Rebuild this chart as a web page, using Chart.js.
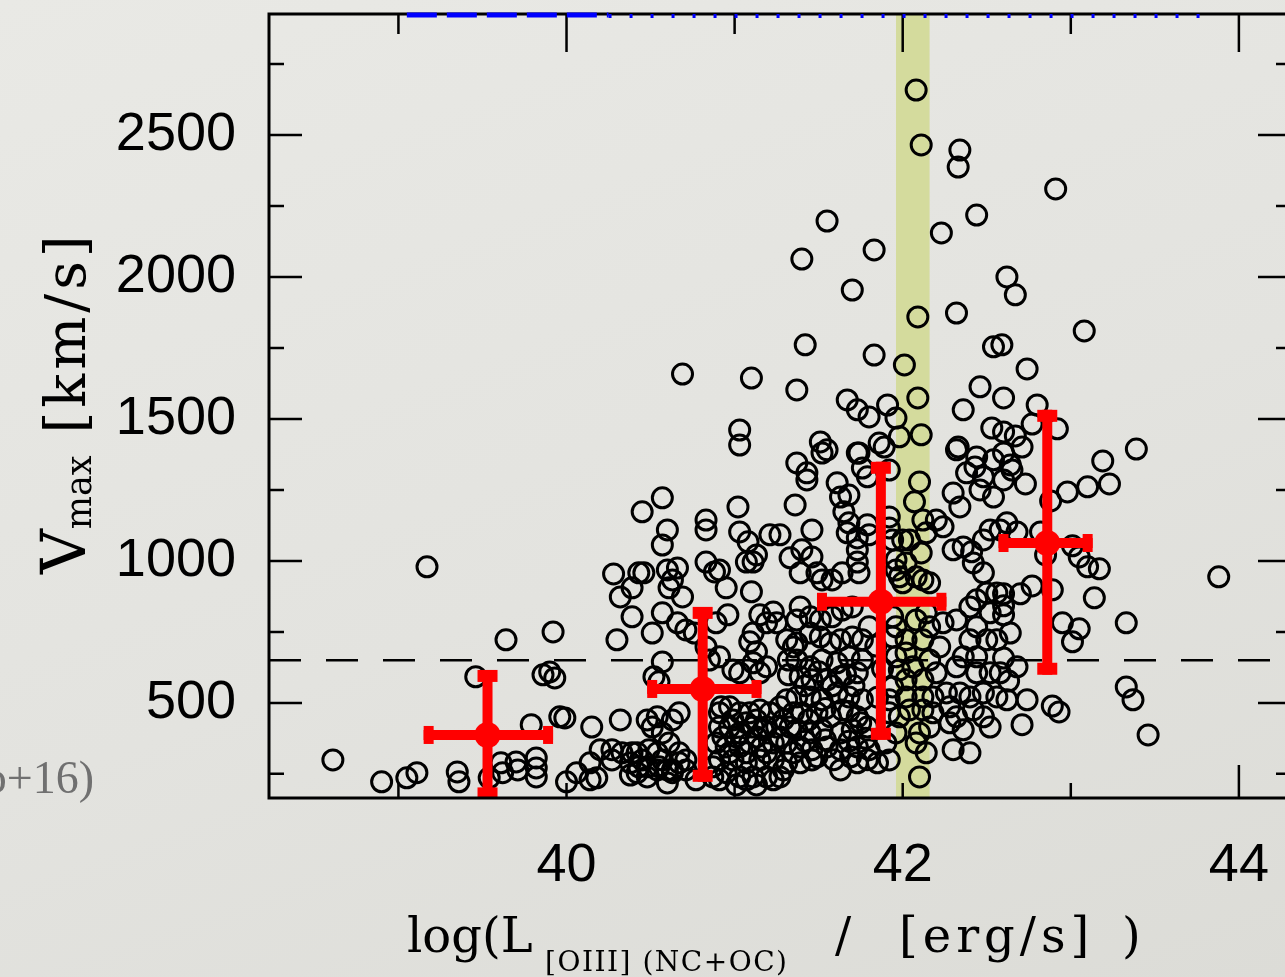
<!DOCTYPE html>
<html>
<head>
<meta charset="utf-8">
<script src="https://cdn.jsdelivr.net/npm/chart.js@4.4.1/dist/chart.umd.min.js"></script>
<style>
  html, body { margin: 0; padding: 0; overflow: hidden; }
  body {
    width: 1285px; height: 977px; position: relative;
    background: linear-gradient(160deg, #e9e9e5 0%, #e3e3df 55%, #dcdcd7 100%);
  }
  #wrap { position: absolute; left: 0; top: 0; width: 1320px; height: 977px; }
  .t { position: absolute; font-family: 'DejaVu Serif', serif; color: #000; white-space: pre; line-height: 1; }
  #ytitle { left: 33px; top: 574px; font-size: 56px; transform-origin: 0 0; transform: rotate(-90deg); }
  #ytitle .big { font-size: 62px; }
  #ytitle .sub { font-size: 35px; position: relative; top: 6px; }
  #ytitle .unit { letter-spacing: 4px; }
  .xt { font-size: 48px; top: 911px; }
  #xsub { font-size: 28px; left: 545px; top: 948px; letter-spacing: 1.5px; }
  #ref { font-family: 'Liberation Serif', serif; font-size: 46px; color: #707070; right: 1191px; top: 755px; }
</style>
</head>
<body>
<div id="wrap"><canvas id="myChart" width="1320" height="977"></canvas></div>
<div class="t" id="ytitle"><span class="big">V</span><span class="sub">max</span><span class="unit"> [km/s]</span></div>
<div class="t xt" style="left:407px">log(L</div>
<div class="t" id="xsub">[OIII] (NC+OC)</div>
<div class="t xt" style="left:835px">/</div>
<div class="t xt" style="left:899px; letter-spacing:5px">[erg/s]</div>
<div class="t xt" style="left:1122px">)</div>
<div class="t" id="ref">(Woo+16)</div>

<script>
document.addEventListener('DOMContentLoaded', () => {
  // log L[OIII] of each object
  const logL = [
    42.08, 42.11, 42.34, 42.33, 42.91, 42.44, 41.55, 42.23, 41.83, 41.40, 42.62, 42.67, 41.70, 42.32, 42.09, 43.08,
    41.42, 42.54, 42.59, 41.83, 42.01, 42.74, 40.69, 41.10, 41.37, 42.46, 41.67, 41.73, 41.80, 41.91, 41.96, 42.09,
    42.60, 42.80, 42.36, 41.51, 41.55, 41.74, 41.86, 41.89, 41.98, 42.11, 42.33, 42.53, 42.60, 42.44, 42.92, 42.77,
    42.67, 42.71, 43.39, 41.03, 41.03, 42.64, 42.65, 42.73, 43.19, 42.98, 43.10, 43.23, 42.88, 42.62, 42.68, 42.82,
    43.01, 43.05, 43.10, 43.17, 42.85, 43.88, 42.60, 42.70, 42.77, 42.89, 43.14, 42.60, 42.60, 42.64, 42.95, 43.05,
    43.01, 43.33, 42.60, 42.68, 42.63, 42.62, 42.74, 42.71, 42.89, 42.93, 43.33, 43.37, 43.46,
    // dense middle
    41.37, 41.43, 41.43, 41.52, 41.61, 41.63, 41.68, 41.73, 41.76, 41.79, 41.92, 41.36, 41.46, 41.65, 41.68, 41.67,
    41.73, 41.73, 41.79, 41.80, 41.92, 41.92, 41.94, 42.00, 42.04, 42.10, 42.07, 42.12, 42.14, 42.11, 42.20, 42.24,
    42.30, 42.34, 42.38, 42.43, 42.48, 42.46, 42.54, 42.60, 42.60, 42.54, 42.32, 42.30, 42.36, 42.41, 42.48, 42.52,
    42.58, 42.42, 42.48, 41.40, 41.46, 41.39, 41.49, 41.52, 41.58, 41.64, 41.73, 41.74, 41.96, 41.96, 42.02, 41.98,
    42.08, 42.12, 42.16, 42.00, 41.39, 41.45, 41.37, 41.51, 41.58, 41.64, 41.70, 41.45, 41.37, 41.51, 41.57, 41.63,
    41.70, 41.76, 41.80, 41.94, 41.96, 41.94, 42.02, 42.08, 42.14, 42.16, 42.12, 42.22, 42.24, 42.32, 42.40, 42.44,
    42.50, 42.56, 42.52, 42.44, 42.50, 42.56, 42.40, 42.36, 42.44, 42.32, 42.44, 42.52, 42.58, 41.37, 41.45, 41.52,
    41.61, 41.68, 41.76, 41.39, 41.46, 41.55, 41.63, 41.73, 41.96, 42.02, 41.98, 42.06, 42.16, 42.20, 42.12, 42.02,
    41.94, 41.92, 42.02, 42.12, 42.18, 42.26, 42.34, 42.40, 42.48, 42.56, 41.37, 41.45, 41.52, 41.61, 41.68, 41.76,
    41.40, 41.49, 41.57, 41.64, 41.73, 41.92, 41.98, 42.04, 42.12, 42.18, 42.28, 42.32, 42.42, 42.48, 41.37, 41.45,
    41.52, 41.63, 41.70, 41.79, 41.96, 42.10, 42.16, 42.28, 42.36, 42.52, 41.39, 41.46, 41.55, 41.63, 41.73, 41.80,
    41.90, 42.08, 42.14, 42.30, 42.40, 41.39, 41.46, 41.63, 41.73, 41.85, 41.92, 42.10,
    41.42, 41.50, 41.58, 41.66, 41.71, 41.44, 41.54, 41.68, 41.75, 41.85, 41.88, 41.84, 41.54, 41.68, 41.78, 41.42,
    41.49, 41.59, 41.69, 41.79,
    // left-middle cloud
    40.45, 40.57, 40.60, 40.57, 40.83, 40.83, 41.02, 41.03, 41.08, 41.21, 41.27, 40.43, 40.46, 40.60, 40.66, 40.63,
    40.61, 40.69, 40.83, 40.88, 40.91, 40.95, 41.07, 41.11, 41.13, 41.10, 40.32, 40.39, 40.39, 40.57, 40.51, 40.30,
    40.66, 40.71, 40.76, 40.89, 40.96, 41.15, 41.23, 41.19, 41.25, 41.11, 41.09, 41.13, 41.11, 40.57, 40.52, 40.55,
    40.83, 40.85, 40.91, 40.99, 41.03, 41.15, 41.19, 41.32, 41.31, 41.32, 41.35, 40.15, 40.32, 40.20, 40.27, 40.33,
    40.14, 40.18, 40.27, 40.39, 40.43, 40.48, 40.54, 40.51, 40.57, 40.63, 40.67, 40.61, 40.57, 40.67, 40.54, 40.48,
    40.38, 40.63, 40.71, 40.60, 40.77, 40.91, 40.97, 41.03, 41.09, 41.15, 41.21, 41.27, 41.31, 41.35, 40.91, 40.97,
    41.03, 41.11, 41.17, 41.25, 41.33, 40.89, 40.95, 41.03, 41.09, 41.16, 41.23, 41.31, 40.91, 40.99, 41.07, 41.15,
    41.23, 41.31, 40.95, 41.03, 41.11, 41.19, 41.27, 41.01, 41.13, 40.87, 40.87, 40.28, 41.33,
    40.42, 40.45, 40.49, 40.54, 40.38, 40.42, 40.55, 40.63, 40.67, 40.71, 40.60, 40.48,
    40.92, 40.99, 41.07, 41.13, 41.19, 41.29, 40.93, 41.01, 41.07, 41.13, 41.27, 41.35, 40.97, 41.19, 41.29, 40.91,
    41.07, 41.23,
    // low-luminosity tail
    39.17, 39.64, 39.92, 39.46, 39.86, 39.90, 39.93, 39.96, 39.99, 39.79, 38.61, 38.90, 39.05, 39.11, 39.35, 39.36,
    39.54, 39.61, 39.62, 39.70, 39.71, 39.82, 39.82, 39.82, 40.00, 40.06, 40.14
  ];
  // V_max in km/s, same order
  const vmax = [
    2658, 2465, 2447, 2387, 2310, 2218, 2197, 2155, 2095, 2063, 2000, 1937, 1954, 1873, 1859, 1810,
    1761, 1754, 1761, 1725, 1690, 1676, 1658, 1644, 1602, 1613, 1567, 1532, 1507, 1549, 1503, 1574,
    1574, 1549, 1532, 1419, 1391, 1380, 1415, 1401, 1437, 1444, 1401, 1468, 1454, 1366, 1465, 1482,
    1440, 1401, 1394, 1461, 1408, 1338, 1320, 1271, 1352, 1243, 1261, 1271, 1211, 1134, 1102, 1102,
    1053, 1014, 979, 972, 1021, 944, 884, 884, 912, 898, 870, 842, 810, 746, 782, 761,
    715, 782, 658, 627, 577, 511, 511, 423, 489, 468, 556, 511, 387,
    1345, 1310, 1285, 1380, 1275, 1225, 1232, 1380, 1327, 1296, 1320, 1197, 1109, 1173, 1134, 1099,
    1081, 1039, 1127, 1092, 1155, 1116, 1074, 1074, 1074, 1278, 1208, 1144, 1099, 1028, 1144, 1120,
    1239, 1190, 1310, 1331, 1296, 1250, 1225, 1285, 1380, 1356, 1391, 1039, 1049, 1032, 1074, 1109,
    1109, 993, 958, 1039, 1014, 958, 958, 933, 933, 958, 996, 958, 1004, 968, 993, 944,
    944, 933, 923, 923, 838, 803, 792, 792, 803, 827, 838, 746, 711, 732, 711, 722,
    732, 722, 768, 803, 768, 732, 722, 792, 817, 768, 722, 697, 782, 792, 838, 863,
    887, 887, 817, 768, 722, 722, 722, 662, 662, 627, 606, 606, 606, 651, 627, 651,
    641, 662, 651, 592, 581, 581, 592, 606, 662, 676, 616, 627, 651, 606, 581, 581,
    556, 511, 521, 521, 521, 535, 535, 521, 535, 521, 521, 521, 511, 535, 521, 511,
    465, 465, 451, 475, 451, 465, 451, 475, 475, 465, 486, 451, 475, 451, 405, 394,
    405, 394, 405, 415, 394, 394, 415, 430, 405, 415, 345, 335, 345, 335, 345, 335,
    359, 359, 324, 335, 324, 289, 299, 264, 289, 289, 299, 239,
    560, 610, 560, 600, 560, 440, 480, 470, 430, 520, 620, 700, 370, 365, 375, 365,
    310, 300, 310, 300,
    1173, 1222, 1109, 1056, 1144, 1109, 1190, 1102, 1067, 1092, 1092, 958, 958, 968, 975, 933,
    905, 873, 996, 961, 968, 905, 996, 996, 1021, 891, 873, 905, 803, 817, 746, 722,
    782, 757, 746, 782, 810, 810, 820, 782, 782, 746, 715, 680, 641, 644, 592, 574,
    697, 651, 662, 616, 606, 606, 627, 599, 722, 651, 697, 415, 440, 335, 335, 324,
    289, 236, 299, 324, 275, 440, 451, 415, 394, 440, 465, 359, 299, 324, 264, 239,
    246, 254, 264, 218, 229, 465, 486, 465, 465, 475, 465, 486, 511, 465, 415, 415,
    394, 415, 405, 415, 415, 359, 345, 345, 359, 345, 359, 359, 299, 299, 289, 299,
    299, 289, 254, 239, 239, 239, 239, 211, 211, 239, 275, 954, 1011,
    324, 299, 335, 324, 289, 254, 275, 264, 289, 299, 264, 275,
    486, 440, 430, 440, 415, 440, 380, 380, 324, 380, 380, 324, 324, 324, 264, 229,
    229, 229,
    979, 722, 750, 592, 599, 609, 588, 451, 447, 423, 299, 222, 236, 254, 257, 222,
    236, 289, 254, 292, 264, 306, 271, 239, 222, 254, 229
  ];

  // binned medians with error bars (outer extent of the bars)
  const binX = [39.53, 40.81, 41.87, 42.86];
  const binY = [387, 549, 856, 1063];
  const binXLo = [39.15, 40.48, 41.49, 42.57];
  const binXHi = [39.92, 41.16, 42.26, 43.13];
  const binYLo = [160, 222, 370, 599];
  const binYHi = [616, 838, 1349, 1532];

  const xTicks = [40, 42, 44];
  const xMinor = [39, 41, 43];
  const yTicks = [500, 1000, 1500, 2000, 2500];
  const yMinor = [250, 750, 1250, 1750, 2250, 2750];

  const cutLevel = 650;
  const band = [41.96, 42.16];
  const topLineSolid = [39.05, 40.25];
  const topLineDots = [40.25, 43.87];

  const xRange = [38.23, 44.31];
  const yRange = [165, 2926];

  const framePlugin = {
    id: 'frame',
    beforeDatasetsDraw(chart) {
      const { ctx, chartArea: a, scales: { x } } = chart;
      const x0 = x.getPixelForValue(band[0]);
      const x1 = x.getPixelForValue(band[1]);
      ctx.save();
      ctx.fillStyle = '#d4db9d';
      ctx.fillRect(x0, a.top, x1 - x0, a.bottom - a.top);
      ctx.restore();
    },
    afterDatasetsDraw(chart) {
      const { ctx, chartArea: a, scales: { x, y } } = chart;
      ctx.save();
      ctx.beginPath();
      ctx.rect(a.left, a.top, a.right - a.left, a.bottom - a.top);
      ctx.clip();
      ctx.fillStyle = '#ff0000';
      ctx.strokeStyle = '#ff0000';
      binX.forEach((bx, i) => {
        const px = x.getPixelForValue(bx);
        const py = y.getPixelForValue(binY[i]);
        const xl = x.getPixelForValue(binXLo[i]);
        const xh = x.getPixelForValue(binXHi[i]);
        const yl = y.getPixelForValue(binYLo[i]);
        const yh = y.getPixelForValue(binYHi[i]);
        ctx.lineWidth = 10;
        ctx.beginPath();
        ctx.moveTo(xl, py); ctx.lineTo(xh, py);
        ctx.moveTo(px, yl); ctx.lineTo(px, yh);
        ctx.stroke();
        ctx.fillRect(xl, py - 9, 10, 18);
        ctx.fillRect(xh - 10, py - 9, 10, 18);
        ctx.fillRect(px - 10, yh, 20, 12);
        ctx.fillRect(px - 10, yl - 12, 20, 12);
        ctx.beginPath();
        ctx.arc(px, py, 13, 0, Math.PI * 2);
        ctx.fill();
      });
      ctx.restore();

      // box and inward ticks
      ctx.save();
      ctx.strokeStyle = '#000';
      ctx.lineWidth = 3;
      ctx.strokeRect(a.left, a.top, a.right - a.left, a.bottom - a.top);
      ctx.lineWidth = 2.5;
      ctx.beginPath();
      const yTick = (v, len) => {
        const p = y.getPixelForValue(v);
        ctx.moveTo(a.left, p); ctx.lineTo(a.left + len, p);
        ctx.moveTo(a.right, p); ctx.lineTo(a.right - len, p);
      };
      yTicks.forEach(v => yTick(v, 33));
      yMinor.forEach(v => yTick(v, 15));
      xTicks.forEach(v => {
        const p = x.getPixelForValue(v);
        ctx.moveTo(p, a.top); ctx.lineTo(p, a.top + 38);
        ctx.moveTo(p, a.bottom); ctx.lineTo(p, a.bottom - (v === 44 ? 33 : 15));
      });
      xMinor.forEach(v => {
        const p = x.getPixelForValue(v);
        ctx.moveTo(p, a.top); ctx.lineTo(p, a.top + 20);
        ctx.moveTo(p, a.bottom); ctx.lineTo(p, a.bottom - 15);
      });
      ctx.stroke();

      // blue curve peeking in at the top edge
      ctx.strokeStyle = '#0000ff';
      ctx.lineWidth = 5;
      ctx.setLineDash([30, 10]);
      ctx.beginPath();
      ctx.moveTo(x.getPixelForValue(topLineSolid[0]), a.top + 1);
      ctx.lineTo(x.getPixelForValue(topLineSolid[1]), a.top + 1);
      ctx.stroke();
      ctx.lineWidth = 4;
      ctx.setLineDash([3, 18]);
      ctx.beginPath();
      ctx.moveTo(x.getPixelForValue(topLineDots[0]), a.top + 2);
      ctx.lineTo(x.getPixelForValue(topLineDots[1]), a.top + 2);
      ctx.stroke();
      ctx.restore();
    }
  };

  const tickFont = { family: "'Liberation Sans', Arial, sans-serif", size: 54 };
  const ctx = document.getElementById('myChart');

  new Chart(ctx, {
    type: 'scatter',
    data: {
      datasets: [
        {
          label: 'cut',
          type: 'line',
          data: [{ x: xRange[0], y: cutLevel }, { x: xRange[1], y: cutLevel }],
          borderColor: '#000',
          borderWidth: 2.5,
          borderDash: [32, 25],
          pointRadius: 0,
          order: 2,
        },
        {
          label: 'AGN',
          data: logL.map((v, i) => ({ x: v, y: vmax[i] })),
          pointRadius: 10,
          borderWidth: 3,
          borderColor: '#000',
          backgroundColor: 'rgba(0,0,0,0)',
          order: 1,
        },
      ],
    },
    options: {
      responsive: false,
      animation: false,
      events: [],
      layout: { padding: { left: 0, top: 14, right: 29, bottom: 0 } },
      plugins: { legend: { display: false }, tooltip: { enabled: false } },
      scales: {
        x: {
          type: 'linear',
          min: xRange[0],
          max: xRange[1],
          grid: { display: false, drawTicks: false },
          border: { display: false },
          afterBuildTicks: (s) => { s.ticks = xTicks.map(v => ({ value: v })); },
          afterFit: (s) => { s.height = 179; s.paddingLeft = 0; s.paddingRight = 0; },
          ticks: { padding: 36, color: '#000', font: tickFont, maxRotation: 0, callback: (v) => String(v) },
        },
        y: {
          type: 'linear',
          min: yRange[0],
          max: yRange[1],
          grid: { display: false, drawTicks: false },
          border: { display: false },
          afterBuildTicks: (s) => { s.ticks = yTicks.map(v => ({ value: v })); },
          afterFit: (s) => { s.width = 269; s.paddingTop = 0; s.paddingBottom = 0; },
          ticks: { padding: 33, color: '#000', font: tickFont, callback: (v) => String(v) },
        },
      },
    },
    plugins: [framePlugin],
  });
});
</script>
</body>
</html>
